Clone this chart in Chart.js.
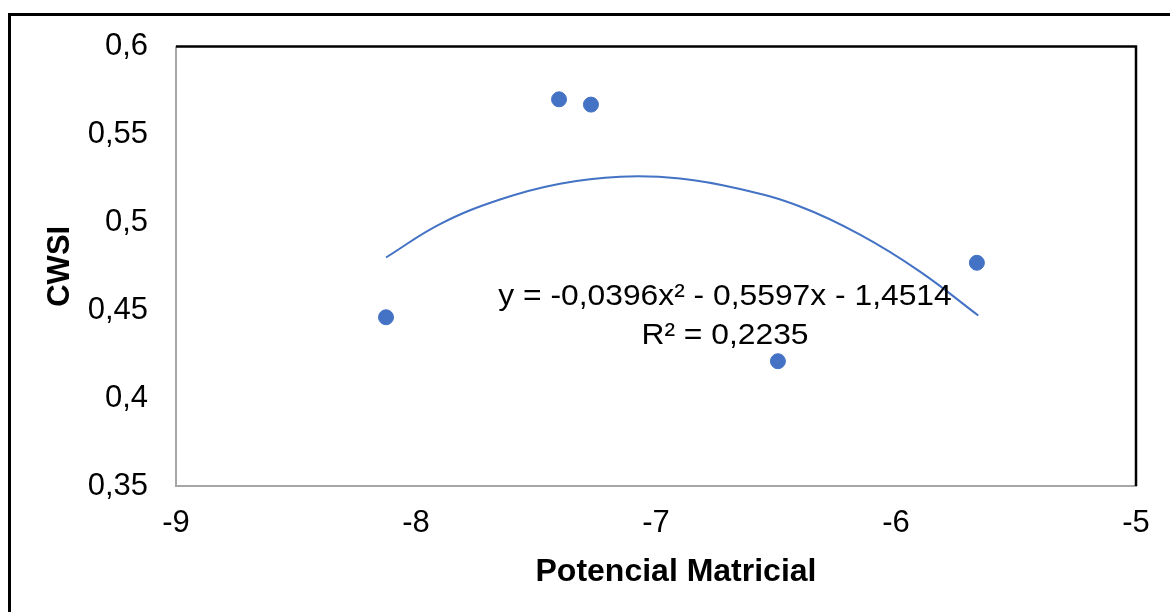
<!DOCTYPE html>
<html>
<head>
<meta charset="utf-8">
<script src="https://cdn.jsdelivr.net/npm/chart.js@4/dist/chart.umd.min.js"></script>
<style>
	html, body { margin: 0; padding: 0; background: #fff; overflow: hidden; }
	.holder { position: relative; width: 1170px; height: 612px; }
	.frame { position: absolute; left: 8px; top: 13px; width: 2000px; height: 2000px; border: 3px solid #000; }
	canvas { position: absolute; left: 0; top: 0; }
</style>
</head>
<body>
<div class="holder">
	<canvas id="myChart" width="1170" height="612"></canvas>
	<div class="frame"></div>
</div>
<script>
// measured points
const potencial = [-8.125, -7.404, -7.271, -6.492, -5.663];
const cwsi = [0.446, 0.570, 0.567, 0.421, 0.477];

// polynomial trendline
const trendX = [-8.125, -7.9, -7.65, -7.4, -7.15, -6.9, -6.65, -6.4, -6.15, -5.9, -5.657];
const trendY = [0.480, 0.499, 0.513, 0.522, 0.526, 0.525, 0.519, 0.509, 0.493, 0.472, 0.447];

const xTicks = [-9, -8, -7, -6, -5];
const yTickLabels = ["0,35", "0,4", "0,45", "0,5", "0,55", "0,6"];
const xTitle = "Potencial Matricial";
const equation = ["y = -0,0396x\u00b2 - 0,5597x - 1,4514", "R\u00b2 = 0,2235"];

const blue = "#4472C4";

function toPoints(xs, ys) {
	return xs.map((x, i) => ({ x: x, y: ys[i] }));
}

// black top/right edges of the plot area, x title and equation label
const extras = {
	id: "extras",
	afterDraw(chart) {
		const ctx = chart.ctx;
		const a = chart.chartArea;
		ctx.save();
		ctx.strokeStyle = "#000";
		ctx.lineWidth = 2.5;
		ctx.beginPath();
		ctx.moveTo(a.left, a.top);
		ctx.lineTo(a.right, a.top);
		ctx.lineTo(a.right, a.bottom);
		ctx.stroke();

		ctx.fillStyle = "#000";
		ctx.textAlign = "center";
		ctx.textBaseline = "middle";
		// x title sits a little right of the axis centre in the original
		ctx.font = "bold 32px 'Liberation Sans', Arial, sans-serif";
		ctx.fillText(xTitle, 676, 572);

		ctx.font = "30px 'Liberation Sans', Arial, sans-serif";
		const rows = [297, 336];
		equation.forEach((t, i) => {
			ctx.save();
			ctx.translate(725, rows[i]);
			ctx.scale(1.06, 1);
			ctx.fillText(t, 0, 0);
			ctx.restore();
		});
		ctx.restore();
	}
};

var ctx = document.getElementById("myChart");
var myChart = new Chart(ctx, {
	type: "scatter",
	data: {
		datasets: [
			{
				data: toPoints(potencial, cwsi),
				backgroundColor: blue,
				borderColor: blue,
				borderWidth: 1,
				pointRadius: 7.5,
				showLine: false,
			},
			{
				data: toPoints(trendX, trendY),
				showLine: true,
				borderColor: blue,
				borderWidth: 2,
				pointRadius: 0,
				tension: 0.4,
				fill: false,
			},
		],
	},
	options: {
		responsive: false,
		animation: false,
		devicePixelRatio: 1,
		layout: { padding: { left: 0, right: 34, top: 45, bottom: 0 } },
		plugins: {
			legend: { display: false },
			tooltip: { enabled: false },
		},
		scales: {
			x: {
				type: "linear",
				min: -9,
				max: -5,
				afterFit: (s) => { s.height = 126; },
				afterBuildTicks: (s) => { s.ticks = xTicks.map(v => ({ value: v })); },
				grid: { display: false, drawTicks: false },
				border: { display: true, color: "#a6a6a6", width: 2 },
				ticks: {
					color: "#000",
					padding: 19,
					font: { family: "'Liberation Sans', Arial", size: 31 },
					callback: (v) => String(v),
				},
				title: { display: false },
			},
			y: {
				min: 0.35,
				max: 0.6,
				afterFit: (s) => { s.width = 176; },
				grid: { display: false, drawTicks: false },
				border: { display: true, color: "#a6a6a6", width: 2 },
				ticks: {
					stepSize: 0.05,
					color: "#000",
					padding: 28,
					font: { family: "'Liberation Sans', Arial", size: 31 },
					callback: (v, i) => yTickLabels[i],
				},
				title: {
					display: true,
					text: "CWSI",
					color: "#000",
					padding: { top: 42, bottom: 0 },
					font: { family: "'Liberation Sans', Arial", size: 31, weight: "bold" },
				},
			},
		},
	},
	plugins: [extras],
});
</script>
</body>
</html>
